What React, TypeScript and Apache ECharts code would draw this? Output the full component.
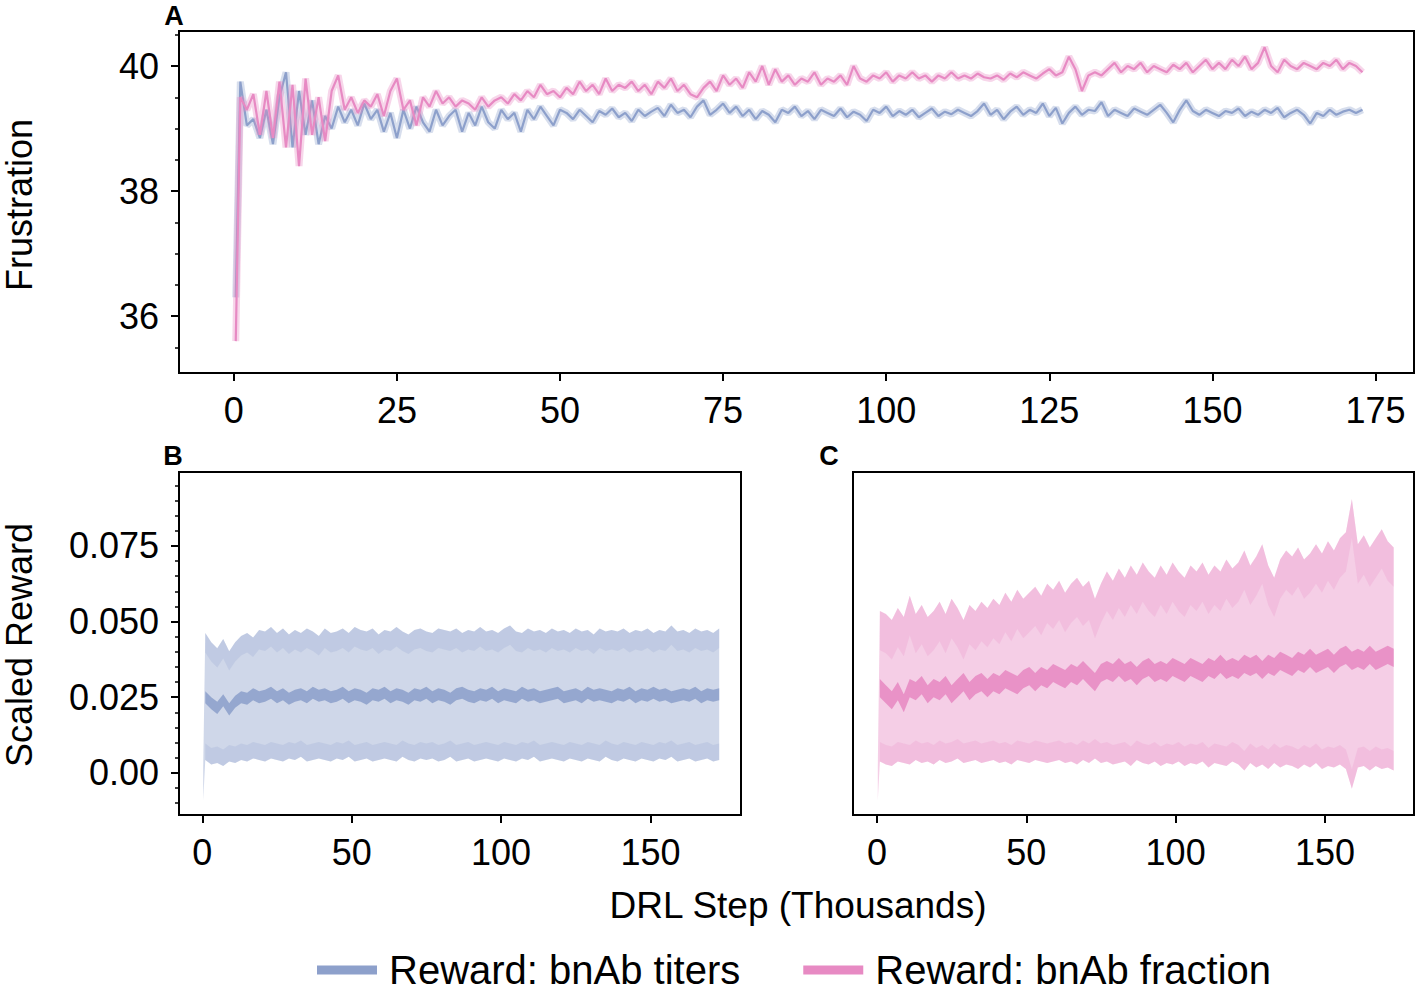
import React, { useEffect, useRef } from "react";
import * as echarts from "echarts";

const FONT = '"Liberation Sans", Arial, sans-serif';
const BLUE = "#8da0cb";
const PINK = "#e78ac3";

// ---------- Panel A: Frustration ----------
const A_STEPS = [0.3,
  1, 2, 3, 4, 5, 6, 7, 8, 9, 10, 11, 12, 13, 14, 15, 16, 17, 18, 19, 20,
  21, 22, 23, 24, 25, 26, 27, 28, 29, 30, 31, 32, 33, 34, 35, 36, 37, 38, 39, 40,
  41, 42, 43, 44, 45, 46, 47, 48, 49, 50, 51, 52, 53, 54, 55, 56, 57, 58, 59, 60,
  61, 62, 63, 64, 65, 66, 67, 68, 69, 70, 71, 72, 73, 74, 75, 76, 77, 78, 79, 80,
  81, 82, 83, 84, 85, 86, 87, 88, 89, 90, 91, 92, 93, 94, 95, 96, 97, 98, 99, 100,
  101, 102, 103, 104, 105, 106, 107, 108, 109, 110, 111, 112, 113, 114, 115, 116, 117, 118, 119, 120,
  121, 122, 123, 124, 125, 126, 127, 128, 129, 130, 131, 132, 133, 134, 135, 136, 137, 138, 139, 140,
  141, 142, 143, 144, 145, 146, 147, 148, 149, 150, 151, 152, 153, 154, 155, 156, 157, 158, 159, 160,
  161, 162, 163, 164, 165, 166, 167, 168, 169, 170, 171, 172, 173];

const A_TITERS = [36.3,
  39.75, 39.05, 39.15, 38.85, 39.3, 38.75, 39.5, 39.9, 38.7, 39.6,
  38.9, 39.45, 38.75, 39.2, 39.0, 39.35, 39.1, 39.3, 39.05, 39.4,
  39.15, 39.3, 38.95, 39.25, 38.85, 39.3, 39.0, 39.35, 39.1, 38.95,
  39.3, 39.05, 39.2, 39.3, 38.95, 39.25, 39.05, 39.35, 39.1, 39.0,
  39.3, 39.15, 39.25, 38.95, 39.3, 39.15, 39.35, 39.2, 39.05, 39.3,
  39.25, 39.15, 39.3, 39.2, 39.1, 39.28, 39.22, 39.32, 39.18, 39.25,
  39.12, 39.3, 39.2, 39.27, 39.33, 39.2, 39.38, 39.25, 39.3, 39.18,
  39.35, 39.45, 39.22, 39.3, 39.4, 39.25, 39.35, 39.2, 39.3, 39.15,
  39.28, 39.22, 39.1, 39.3, 39.25, 39.35, 39.2, 39.28, 39.15, 39.3,
  39.25, 39.2, 39.32, 39.18, 39.27, 39.22, 39.12, 39.3, 39.25, 39.35,
  39.2, 39.28, 39.22, 39.3, 39.18, 39.25, 39.32, 39.2, 39.27, 39.23,
  39.3, 39.25, 39.2, 39.28, 39.4, 39.22, 39.3, 39.15, 39.27, 39.35,
  39.22, 39.3, 39.25, 39.4, 39.2, 39.33, 39.08, 39.25, 39.35, 39.22,
  39.3, 39.28, 39.42, 39.2, 39.3, 39.25, 39.2, 39.32, 39.27, 39.22,
  39.3, 39.38, 39.25, 39.1, 39.3, 39.45, 39.28, 39.22, 39.3, 39.25,
  39.2, 39.28, 39.25, 39.32, 39.2, 39.27, 39.22, 39.3, 39.25, 39.33,
  39.18, 39.25, 39.3, 39.22, 39.08, 39.25, 39.2, 39.3, 39.22, 39.27,
  39.3, 39.25, 39.3];

const A_FRACTION = [35.6,
  39.5, 39.3, 39.55, 38.9, 39.6, 38.85, 39.75, 38.7, 39.7, 38.4,
  39.8, 38.9, 39.5, 38.8, 39.6, 39.85, 39.3, 39.5, 39.25, 39.45,
  39.35, 39.55, 39.2, 39.6, 39.8, 39.3, 39.45, 39.05, 39.5, 39.35,
  39.6, 39.4, 39.5, 39.35, 39.45, 39.4, 39.3, 39.5, 39.35, 39.45,
  39.5, 39.4, 39.55, 39.45, 39.6, 39.5, 39.7, 39.55, 39.6, 39.5,
  39.65, 39.55, 39.75, 39.6, 39.7, 39.55, 39.8, 39.6, 39.7, 39.65,
  39.75, 39.6, 39.7, 39.55, 39.75, 39.65, 39.8, 39.6, 39.7, 39.55,
  39.5, 39.65, 39.75, 39.6, 39.85, 39.7, 39.8, 39.65, 39.9, 39.75,
  40.0, 39.7, 39.95, 39.75, 39.85, 39.7, 39.8, 39.75, 39.9, 39.7,
  39.8, 39.75, 39.85, 39.7, 40.0, 39.8, 39.75, 39.85, 39.8, 39.9,
  39.75, 39.85, 39.8, 39.9, 39.8, 39.85, 39.75, 39.85, 39.8, 39.9,
  39.8, 39.85, 39.8, 39.88, 39.82, 39.8, 39.85, 39.78, 39.88, 39.82,
  39.9, 39.85, 39.8, 39.88, 39.95, 39.85, 39.9, 40.15, 39.95, 39.6,
  39.85, 39.9, 39.85, 39.95, 40.05, 39.9, 40.0, 39.95, 40.05, 39.9,
  40.0, 39.95, 39.9, 40.02, 39.95, 40.05, 39.9, 40.0, 40.1, 39.95,
  40.05, 39.95, 40.1, 40.0, 40.15, 39.95, 40.05, 40.3, 40.0, 39.9,
  40.1, 40.0, 39.95, 40.05, 40.0, 39.95, 40.05, 40.0, 40.1, 39.95,
  40.05, 40.0, 39.9];

const A_XTICKS = [0, 25, 50, 75, 100, 125, 150, 175];
const A_YTICKS = [36, 38, 40];
const A_YMINOR = [35.5, 36.5, 37, 37.5, 38.5, 39, 39.5, 40.5];

// ---------- Panels B and C: Scaled reward ----------
const R_STEPS = [0.3,
  1, 3, 5, 7, 9, 11, 13, 15, 17, 19, 21, 23, 25, 27, 29, 31, 33, 35, 37, 39,
  41, 43, 45, 47, 49, 51, 53, 55, 57, 59, 61, 63, 65, 67, 69, 71, 73, 75, 77, 79,
  81, 83, 85, 87, 89, 91, 93, 95, 97, 99, 101, 103, 105, 107, 109, 111, 113, 115, 117, 119,
  121, 123, 125, 127, 129, 131, 133, 135, 137, 139, 141, 143, 145, 147, 149, 151, 153, 155, 157, 159,
  161, 163, 165, 167, 169, 171, 173];

const B_UPPER = [0.002,
  0.043, 0.040, 0.038, 0.041, 0.037, 0.040, 0.042, 0.043, 0.0415, 0.044,
  0.0435, 0.045, 0.043, 0.0445, 0.0425, 0.044, 0.043, 0.0445, 0.0435, 0.042,
  0.0445, 0.043, 0.0435, 0.0445, 0.043, 0.045, 0.044, 0.0435, 0.0445, 0.0425,
  0.044, 0.0435, 0.045, 0.0435, 0.0425, 0.044, 0.0445, 0.0435, 0.043, 0.0445,
  0.044, 0.0435, 0.0445, 0.043, 0.044, 0.0435, 0.045, 0.0435, 0.044, 0.043,
  0.0445, 0.0455, 0.0435, 0.043, 0.0445, 0.0435, 0.044, 0.043, 0.0445, 0.0435,
  0.044, 0.043, 0.0445, 0.0435, 0.044, 0.0425, 0.0445, 0.0435, 0.044, 0.0435,
  0.0445, 0.043, 0.044, 0.0435, 0.0445, 0.043, 0.044, 0.0435, 0.0455, 0.0435,
  0.044, 0.043, 0.0445, 0.0435, 0.044, 0.043, 0.0445];

const B_MEAN = [0.0,
  0.025, 0.023, 0.0215, 0.024, 0.021, 0.0235, 0.025, 0.0245, 0.026, 0.025,
  0.0255, 0.0265, 0.025, 0.026, 0.0245, 0.0255, 0.026, 0.025, 0.0265, 0.0255,
  0.026, 0.025, 0.0255, 0.0265, 0.025, 0.026, 0.0255, 0.0245, 0.026, 0.0255,
  0.0265, 0.025, 0.026, 0.0255, 0.0245, 0.026, 0.0255, 0.0265, 0.025, 0.026,
  0.0255, 0.0245, 0.026, 0.0265, 0.0255, 0.025, 0.026, 0.0255, 0.0265, 0.025,
  0.026, 0.0255, 0.025, 0.0265, 0.0255, 0.026, 0.025, 0.0255, 0.026, 0.0265,
  0.025, 0.0255, 0.026, 0.025, 0.0265, 0.0255, 0.026, 0.0255, 0.025, 0.026,
  0.0255, 0.0265, 0.025, 0.026, 0.0255, 0.0265, 0.0255, 0.026, 0.025, 0.0255,
  0.026, 0.0255, 0.0265, 0.025, 0.026, 0.0255, 0.026];

const B_LOWER = [-0.009,
  0.007, 0.0055, 0.006, 0.005, 0.0065, 0.006, 0.007, 0.0065, 0.0075, 0.007,
  0.0065, 0.0075, 0.007, 0.0065, 0.0075, 0.007, 0.008, 0.0065, 0.007, 0.0075,
  0.007, 0.0065, 0.0075, 0.007, 0.008, 0.0065, 0.007, 0.0075, 0.0065, 0.007,
  0.0075, 0.007, 0.0065, 0.008, 0.007, 0.0065, 0.0075, 0.007, 0.0075, 0.0065,
  0.007, 0.008, 0.0065, 0.007, 0.0075, 0.0065, 0.007, 0.0075, 0.007, 0.0065,
  0.0075, 0.007, 0.0065, 0.0075, 0.007, 0.008, 0.0065, 0.007, 0.0075, 0.007,
  0.0065, 0.0075, 0.007, 0.0065, 0.0075, 0.007, 0.0065, 0.008, 0.007, 0.0065,
  0.0075, 0.007, 0.0065, 0.0075, 0.007, 0.0065, 0.0075, 0.007, 0.008, 0.0065,
  0.007, 0.0075, 0.0065, 0.007, 0.0075, 0.0065, 0.007];

const C_UPPER = [0.002,
  0.047, 0.046, 0.044, 0.048, 0.045, 0.052, 0.046, 0.049, 0.045, 0.047,
  0.050, 0.046, 0.051, 0.048, 0.044, 0.049, 0.047, 0.050, 0.048, 0.051,
  0.049, 0.053, 0.050, 0.054, 0.051, 0.053, 0.055, 0.052, 0.056, 0.054,
  0.057, 0.053, 0.056, 0.058, 0.055, 0.057, 0.051, 0.056, 0.060, 0.057,
  0.061, 0.058, 0.062, 0.059, 0.063, 0.060, 0.058, 0.062, 0.059, 0.063,
  0.060, 0.058, 0.062, 0.060, 0.063, 0.059, 0.062, 0.060, 0.064, 0.061,
  0.063, 0.067, 0.062, 0.065, 0.069, 0.062, 0.058, 0.064, 0.067, 0.065,
  0.068, 0.064, 0.066, 0.069, 0.066, 0.070, 0.067, 0.071, 0.073, 0.084,
  0.069, 0.072, 0.068, 0.071, 0.074, 0.070, 0.068];

const C_MEAN = [0.0,
  0.028, 0.026, 0.024, 0.027, 0.023, 0.028, 0.027, 0.029, 0.026, 0.028,
  0.027, 0.029, 0.026, 0.028, 0.030, 0.027, 0.029, 0.030, 0.028, 0.030,
  0.029, 0.031, 0.030, 0.029, 0.031, 0.032, 0.030, 0.032, 0.031, 0.033,
  0.032, 0.031, 0.033, 0.032, 0.034, 0.032, 0.030, 0.033, 0.034, 0.033,
  0.035, 0.033, 0.034, 0.032, 0.034, 0.035, 0.033, 0.034, 0.033, 0.035,
  0.034, 0.033, 0.035, 0.034, 0.033, 0.035, 0.034, 0.036, 0.034, 0.035,
  0.034, 0.036, 0.035, 0.036, 0.034, 0.036, 0.035, 0.037, 0.036, 0.035,
  0.037, 0.036, 0.038, 0.036, 0.037, 0.038, 0.036, 0.038, 0.039, 0.037,
  0.038, 0.037, 0.039, 0.037, 0.038, 0.039, 0.038];

const C_LOWER = [-0.009,
  0.007, 0.006, 0.0055, 0.007, 0.0065, 0.006, 0.0075, 0.0065, 0.007, 0.006,
  0.0075, 0.0065, 0.007, 0.008, 0.0065, 0.007, 0.0075, 0.0065, 0.007, 0.0075,
  0.0065, 0.007, 0.006, 0.0075, 0.007, 0.0065, 0.0075, 0.007, 0.0065, 0.007,
  0.0075, 0.0065, 0.007, 0.006, 0.0075, 0.0065, 0.008, 0.0065, 0.007, 0.006,
  0.0065, 0.007, 0.0055, 0.0075, 0.0065, 0.006, 0.007, 0.0055, 0.0065, 0.006,
  0.007, 0.0055, 0.0065, 0.006, 0.007, 0.005, 0.0065, 0.006, 0.0055, 0.007,
  0.006, 0.004, 0.0065, 0.005, 0.006, 0.0045, 0.0065, 0.005, 0.006, 0.0055,
  0.0045, 0.006, 0.005, 0.0065, 0.0045, 0.0055, 0.005, 0.006, 0.0045, -0.002,
  0.005, 0.0055, 0.004, 0.0055, 0.0045, 0.005, 0.004];

const R_XTICKS = [0, 50, 100, 150];
const R_YTICKS = [0, 0.025, 0.05, 0.075];
const R_YLABELS = ["0.00", "0.025", "0.050", "0.075"];
const R_YMINOR = [-0.01, -0.005, 0.005, 0.01, 0.015, 0.02, 0.03, 0.035, 0.04, 0.045,
  0.055, 0.06, 0.065, 0.07, 0.08, 0.085, 0.09, 0.095];

const LEGEND_NAMES = ["Reward: bnAb titers", "Reward: bnAb fraction"];

function pairs(xs: number[], ys: number[]) {
  return xs.map((x, i) => [x, ys[i]]);
}

function lineSeries(name: string, x: number, y: number, data: number[][], color: string, width: number, z = 2) {
  return {
    type: "line", name, xAxisIndex: x, yAxisIndex: y, data,
    showSymbol: false, symbol: "none", silent: true, z,
    color,
    lineStyle: { color, width, join: "bevel" },
  };
}

// A filled band between lo and hi, drawn as one polygon through the axes' coordinate system.
function bandSeries(name: string, x: number, y: number, rows: number[][], fill: string, z: number) {
  return {
    type: "custom", name, xAxisIndex: x, yAxisIndex: y, silent: true, z, clip: true,
    data: rows,
    encode: { x: 0, y: [1, 2] },
    renderItem: (params: any, api: any) => {
      if (params.dataIndexInside !== 0) return null;
      const n = params.dataInsideLength;
      const top: number[][] = [];
      const bottom: number[][] = [];
      for (let i = 0; i < n; i++) {
        const xv = api.value(0, i);
        top.push(api.coord([xv, api.value(2, i)]));
        bottom.unshift(api.coord([xv, api.value(1, i)]));
      }
      return { type: "polygon", shape: { points: top.concat(bottom) }, style: { fill } };
    },
  };
}

function rewardPanel(prefix: string, x: number, y: number, upper: number[], mean: number[], lower: number[],
  rgb: string, hw: number[]) {
  const [hu, hm, hl] = hw;
  const fillRows = R_STEPS.map((s, i) => i === 0 ? [s, lower[i], upper[i]] : [s, lower[i] - hl, upper[i] + hu]);
  const ribbon = (c: number[], h: number) => R_STEPS.slice(1).map((s, k) => [s, c[k + 1] - h, c[k + 1] + h]);
  return [
    bandSeries(prefix + "fill", x, y, fillRows, `rgba(${rgb},0.42)`, 2),
    bandSeries(prefix + "upper", x, y, ribbon(upper, hu), `rgba(${rgb},0.22)`, 3),
    bandSeries(prefix + "lower", x, y, ribbon(lower, hl), `rgba(${rgb},0.22)`, 3),
    bandSeries(prefix + "mean", x, y, ribbon(mean, hm), `rgba(${rgb},0.88)`, 4),
  ];
}

const tickLabel = { fontSize: 36, color: "#000", fontFamily: FONT };

export default function App() {
  const ref = useRef<HTMLDivElement>(null);
  useEffect(() => {
    if (!ref.current) return;
    const chart = echarts.init(ref.current, undefined, { renderer: "svg" });
    const gridBox = { show: true, borderColor: "#000", borderWidth: 2, backgroundColor: "transparent", containLabel: false };
    const xAxisBase = (gridIndex: number, min: number, max: number, ticks: number[]) => ({
      gridIndex, type: "value", min, max,
      axisLine: { show: true, onZero: false, lineStyle: { color: "#000", width: 2 } },
      splitLine: { show: false },
      axisTick: { show: true, inside: false, length: 8, lineStyle: { color: "#000", width: 2 }, customValues: ticks },
      axisLabel: { ...tickLabel, margin: 19, customValues: ticks },
    });
    const option: any = {
      animation: false,
      textStyle: { fontFamily: FONT },
      grid: [
        { ...gridBox, left: 179, top: 31, width: 1235, height: 342 },
        { ...gridBox, left: 179, top: 472, width: 562, height: 343 },
        { ...gridBox, left: 853, top: 472, width: 561, height: 343 },
      ],
      xAxis: [
        xAxisBase(0, -8.4, 180.9, A_XTICKS),
        xAxisBase(1, -7.8, 180.3, R_XTICKS),
        xAxisBase(2, -8.0, 179.8, R_XTICKS),
      ],
      yAxis: [
        { gridIndex: 0, type: "value", min: 35.09, max: 40.56,
          axisLine: { show: true, onZero: false, lineStyle: { color: "#000", width: 2 } },
          splitLine: { show: false },
          axisTick: { show: true, length: 8, lineStyle: { color: "#000", width: 2 }, customValues: A_YTICKS },
          axisLabel: { ...tickLabel, margin: 20, customValues: A_YTICKS } },
        { gridIndex: 0, type: "value", min: 35.09, max: 40.56, position: "left",
          axisLine: { show: false, onZero: false }, splitLine: { show: false },
          axisTick: { show: true, length: 4, lineStyle: { color: "#000", width: 1.5 }, customValues: A_YMINOR },
          axisLabel: { show: false } },
        { gridIndex: 1, type: "value", min: -0.0139, max: 0.0994,
          axisLine: { show: true, onZero: false, lineStyle: { color: "#000", width: 2 } },
          splitLine: { show: false },
          axisTick: { show: true, length: 8, lineStyle: { color: "#000", width: 2 }, customValues: R_YTICKS },
          axisLabel: { ...tickLabel, margin: 20, customValues: R_YTICKS,
            formatter: (v: number) => {
              const i = R_YTICKS.findIndex((t) => Math.abs(t - v) < 1e-9);
              return i >= 0 ? R_YLABELS[i] : "";
            } } },
        { gridIndex: 1, type: "value", min: -0.0139, max: 0.0994, position: "left",
          axisLine: { show: false, onZero: false }, splitLine: { show: false },
          axisTick: { show: true, length: 4, lineStyle: { color: "#000", width: 1.5 }, customValues: R_YMINOR },
          axisLabel: { show: false } },
        { gridIndex: 2, type: "value", min: -0.0139, max: 0.0994,
          axisLine: { show: false, onZero: false }, splitLine: { show: false },
          axisTick: { show: false }, axisLabel: { show: false } },
      ],
      legend: {
        left: 317, top: 950, padding: 0, icon: "rect", itemWidth: 60, itemHeight: 9, itemGap: 63,
        textStyle: { fontSize: 40, color: "#000", fontFamily: FONT, lineHeight: 40, padding: [0, 0, 0, 7] },
        data: [
          { name: LEGEND_NAMES[0], itemStyle: { color: BLUE } },
          { name: LEGEND_NAMES[1], itemStyle: { color: PINK } },
        ],
        selectedMode: false,
      },
      series: [
        lineSeries("titersBand", 0, 0, pairs(A_STEPS, A_TITERS), "rgba(141,160,203,0.35)", 7, 2),
        lineSeries(LEGEND_NAMES[0], 0, 0, pairs(A_STEPS, A_TITERS), BLUE, 2.2, 3),
        lineSeries("fractionBand", 0, 0, pairs(A_STEPS, A_FRACTION), "rgba(231,138,195,0.35)", 7, 4),
        lineSeries(LEGEND_NAMES[1], 0, 0, pairs(A_STEPS, A_FRACTION), PINK, 2.2, 5),
        ...rewardPanel("B", 1, 2, B_UPPER, B_MEAN, B_LOWER, "141,160,203", [0.0032, 0.002, 0.0027]),
        ...rewardPanel("C", 2, 4, C_UPPER, C_MEAN, C_LOWER, "231,138,195", [0.0065, 0.003, 0.0032]),
      ],
      graphic: [
        { type: "text", x: 174, y: 16, style: { text: "A", font: `bold 27px ${FONT}`, fill: "#000", textAlign: "center", textVerticalAlign: "middle" } },
        { type: "text", x: 173, y: 456, style: { text: "B", font: `bold 27px ${FONT}`, fill: "#000", textAlign: "center", textVerticalAlign: "middle" } },
        { type: "text", x: 829, y: 456, style: { text: "C", font: `bold 27px ${FONT}`, fill: "#000", textAlign: "center", textVerticalAlign: "middle" } },
        { type: "text", x: 19, y: 205, rotation: Math.PI / 2, style: { text: "Frustration", font: `36px ${FONT}`, fill: "#000", textAlign: "center", textVerticalAlign: "middle" } },
        { type: "text", x: 19, y: 645, rotation: Math.PI / 2, style: { text: "Scaled Reward", font: `36px ${FONT}`, fill: "#000", textAlign: "center", textVerticalAlign: "middle" } },
        { type: "text", x: 798, y: 905, style: { text: "DRL Step (Thousands)", font: `37px ${FONT}`, fill: "#000", textAlign: "center", textVerticalAlign: "middle" } },
      ],
    };
    chart.setOption(option);
    return () => chart.dispose();
  }, []);
  return <div ref={ref} style={{ position: "absolute", left: 0, top: 0, width: 1417, height: 992 }} />;
}
